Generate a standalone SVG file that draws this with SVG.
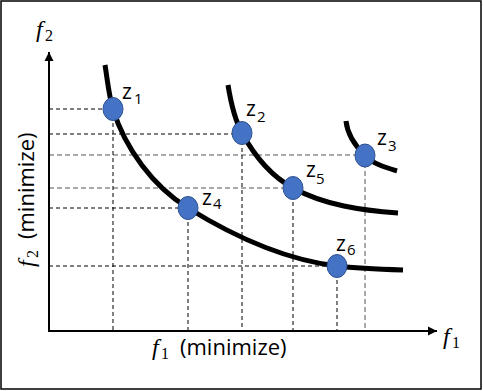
<svg xmlns="http://www.w3.org/2000/svg" width="483" height="391" viewBox="0 0 483 391">
  <defs>
    <marker id="arrow" markerWidth="10" markerHeight="10" refX="9" refY="5" orient="auto" markerUnits="userSpaceOnUse">
      <path d="M0,0.5 L9,5 L0,9.5 Z" fill="#000"/>
    </marker>
    <style>
      .frame { fill: #fff; stroke: #000; stroke-width: 1.5; }
      .axis { stroke: #000; stroke-width: 2; fill: none; }
      .dash { stroke: #000; stroke-width: 1; stroke-dasharray: 4 3; fill: none; }
      .dash.g { stroke: #555; stroke-dasharray: 5 3; }
      .curve { stroke: #000; stroke-width: 5; fill: none; stroke-linecap: butt; }
      .pt { fill: #4472C4; stroke: #2F528F; stroke-width: 1; }
      .fi { font-family: "Liberation Serif", serif; font-style: italic; font-size: 24px; fill: #000; }
      .fs { font-family: "Liberation Serif", serif; font-size: 16px; fill: #000; }
      .lab { font-family: "Open Sans", "Liberation Sans", sans-serif; font-size: 22px; fill: #000; }
      .z { font-family: "Open Sans", "Liberation Sans", sans-serif; font-size: 21px; fill: #000; }
      .zs { font-family: "Open Sans", "Liberation Sans", sans-serif; font-size: 15px; fill: #000; }
    </style>
  </defs>

  <rect class="frame" x="1" y="1" width="480" height="388"/>

  <g id="connectors">
    <line class="dash" x1="49" y1="109" x2="113" y2="109"/>
    <line class="dash" x1="49" y1="134" x2="242" y2="134"/>
    <line class="dash g" x1="49" y1="155" x2="365" y2="155"/>
    <line class="dash g" x1="49" y1="188" x2="293" y2="188"/>
    <line class="dash" x1="49" y1="208" x2="188" y2="208"/>
    <line class="dash" x1="49" y1="266" x2="337" y2="266"/>
    <line class="dash" x1="113" y1="109" x2="113" y2="331"/>
    <line class="dash" x1="188" y1="208" x2="188" y2="331"/>
    <line class="dash" x1="242" y1="134" x2="242" y2="331"/>
    <line class="dash" x1="293" y1="188" x2="293" y2="331"/>
    <line class="dash" x1="337" y1="266" x2="337" y2="331"/>
    <line class="dash g" x1="365" y1="155" x2="365" y2="331"/>

    <line class="axis" x1="49" y1="332" x2="49" y2="52" marker-end="url(#arrow)"/>
    <line class="axis" x1="48" y1="331" x2="437" y2="331" marker-end="url(#arrow)"/>

    <path class="curve" d="M105,65 C107.5,79.8 108.6,94.6 113,109 C124.9,148.4 153.2,186.3 188,208 C233,236 284.5,259.6 337,266 C358.8,268.6 381,269.3 403,270"/>
    <path class="curve" d="M228,85 C230.7,101.8 233.8,118 242,133 C254,155 271,176 293,188 C324.7,205.3 362,210.5 398,213"/>
    <path class="curve" d="M346,121 C347.4,134.9 355.1,145.8 365,155.5 C373.5,164.2 385.5,167.5 397,171"/>
  </g>

  <g id="z1"><ellipse class="pt" cx="113" cy="109" rx="10" ry="11.5"/><text class="z" x="122" y="99">z</text><text class="zs" x="134" y="104">1</text></g>
  <g id="z2"><ellipse class="pt" cx="242" cy="133" rx="10" ry="11.5"/><text class="z" x="246" y="116">z</text><text class="zs" x="257" y="122">2</text></g>
  <g id="z3"><ellipse class="pt" cx="365" cy="155.5" rx="10" ry="11.5"/><text class="z" x="377" y="145">z</text><text class="zs" x="388" y="151">3</text></g>
  <g id="z4"><ellipse class="pt" cx="188" cy="208" rx="10" ry="11.5"/><text class="z" x="202" y="205">z</text><text class="zs" x="213" y="209">4</text></g>
  <g id="z5"><ellipse class="pt" cx="293" cy="188" rx="10" ry="11.5"/><text class="z" x="306" y="177">z</text><text class="zs" x="316" y="184">5</text></g>
  <g id="z6"><ellipse class="pt" cx="337" cy="266" rx="10" ry="11.5"/><text class="z" x="336" y="251">z</text><text class="zs" x="347" y="255">6</text></g>

  <g id="axis-f2"><text class="fi" x="36" y="37">f</text><text class="fs" x="45" y="41">2</text></g>
  <g id="axis-f1"><text class="fi" x="443" y="344">f</text><text class="fs" x="452" y="348">1</text></g>

  <g id="label-f1" transform="translate(150,355)">
    <text class="fi" x="2" y="0">f</text><text class="fs" x="11" y="4">1</text><text class="lab" x="30" y="0">(minimize)</text>
  </g>
  <g id="label-f2" transform="translate(34,269) rotate(-90)">
    <text class="fi" x="2" y="0">f</text><text class="fs" x="11" y="4">2</text><text class="lab" x="30" y="0">(minimize)</text>
  </g>
</svg>
